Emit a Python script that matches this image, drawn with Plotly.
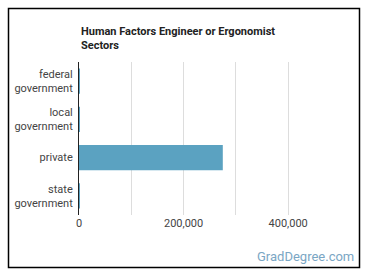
import plotly.graph_objects as go

categories = ["federal<br>government", "local<br>government", "private", "state<br>government"]
values = [1800, 900, 275000, 1000]
x_ticks = [0, 100000, 200000, 300000, 400000]
x_tick_labels = ["0", "", "200,000", "", "400,000"]

W, H = 370, 278
L, R, T, B = 79, 40, 62, 63
pw = W - L - R
ph = H - T - B

def px(x):
    return (x - L) / pw

def py(y):
    return (H - B - y) / ph

fig = go.Figure(go.Bar(
    x=values, y=categories, orientation="h",
    marker=dict(color="#5ba2c1", line=dict(width=0)),
    hoverinfo="skip",
))

fig.update_layout(
    width=W, height=H,
    margin=dict(l=L, r=R, t=T, b=B),
    paper_bgcolor="white", plot_bgcolor="white",
    showlegend=False,
    bargap=0.34,
    font=dict(family="Roboto", size=11, color="#444"),
    xaxis=dict(
        range=[0, 480000],
        tickvals=x_ticks,
        ticktext=x_tick_labels,
        showgrid=True, gridcolor="#dddddd", gridwidth=1,
        zeroline=False, showline=False, ticks="",
        tickfont=dict(size=11, color="#444"),
        fixedrange=True,
    ),
    yaxis=dict(
        categoryorder="array", categoryarray=categories,
        autorange="reversed",
        showgrid=False, zeroline=False,
        showline=True, linecolor="#222", linewidth=1,
        ticks="", ticklabelstandoff=3,
        tickfont=dict(size=11, color="#444"),
        fixedrange=True,
    ),
    shapes=[dict(
        type="rect", xref="paper", yref="paper",
        x0=px(8.5), x1=px(359.5), y0=py(267.5), y1=py(8.5),
        line=dict(color="black", width=1.5), fillcolor="rgba(0,0,0,0)",
    )],
    annotations=[
        dict(
            text="<b>Human Factors Engineer or Ergonomist<br>Sectors</b>",
            xref="paper", yref="paper", x=px(79), y=py(23),
            xanchor="left", yanchor="top", align="left", showarrow=False,
            font=dict(family="Roboto", size=11, color="#222"),
        ),
        dict(
            text="GradDegree.com",
            xref="paper", yref="paper", x=px(356), y=py(256),
            xanchor="right", yanchor="middle", showarrow=False,
            font=dict(family="Roboto", size=13, color="#7aa6c4"),
        ),
    ],
)

fig.write_html("out.html")
